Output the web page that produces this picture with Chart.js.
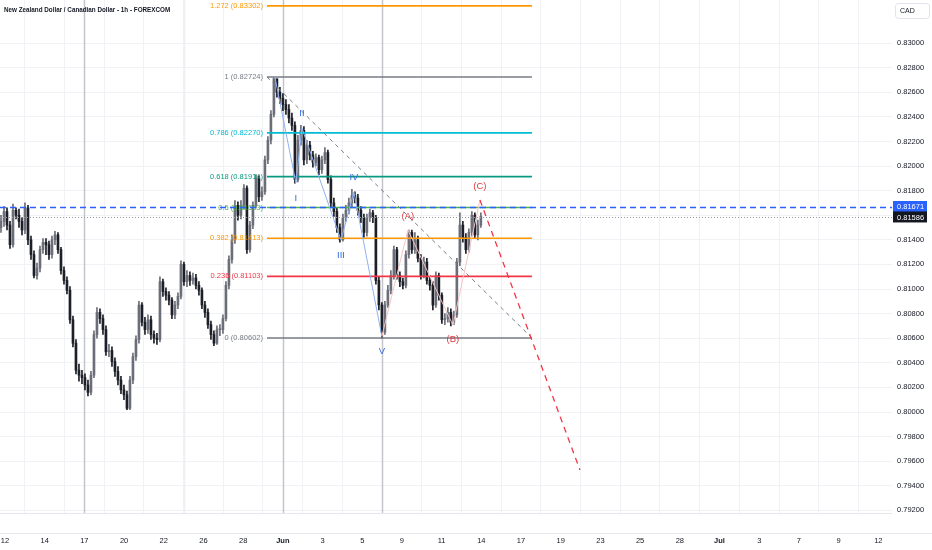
<!DOCTYPE html>
<html><head><meta charset="utf-8">
<script src="https://cdn.jsdelivr.net/npm/chart.js@4.4.0/dist/chart.umd.min.js"></script>
<style>html,body{margin:0;padding:0;background:#fff;overflow:hidden}#wrap{width:932px;height:550px;position:relative}</style>
</head><body><div id="wrap"><canvas id="c"></canvas></div>
<script>
// ---------- DATA ----------
const chartTitle = 'New Zealand Dollar / Canadian Dollar - 1h - FOREXCOM';
const currency = 'CAD';
const firstOpen = 0.8150;
const barStart = -0.2, barStep = 0.1511; // bar times, in trading-day units from 12 May
const closes = [
.8155,.8163,.8152,.8136,.8164,.8160,.8155,.8148,.8166,.8140,.8128,.8111,.8117,.8132,.8138,
.8136,.8128,.8140,.8144,.8132,.8115,.8107,.8099,.8075,.8056,.8034,.8030,.8028,
.8022,.8016,.8030,.8063,.8081,.8076,.8067,.8049,.8050,.8041,.8033,.8026,
.8018,.8014,.8003,.8026,.8045,.8059,.8087,.8073,.8067,.8075,.8063,.8060,.8059,.8106,.8098,.8095,
.8091,.8079,.8087,.8094,.8120,.8106,.8111,.8107,.8109,.8103,.8099,.8087,.8081,.8071,.8063,.8056,.8067,.8067,.8076,.8103,
.8124,.8140,.8168,.8160,.8168,.8182,.8132,.8152,.8168,.8190,.8175,.8179,.8205,.8221,.8242,.8271,.8260,.8255,.8250,.8246,
.8239,.8233,.8189,.8221,.8229,.8205,.8217,.8209,.8203,.8207,.8197,.8205,.8211,.8189,.8170,.8163,.8150,.8140,.8158,.8164,
.8170,.8176,.8174,.8164,.8158,.8146,.8158,.8162,.8158,.8107,.8087,.8065,.8087,.8099,.8111,.8132,.8111,.8106,.8103,.8128,
.8146,.8132,.8140,.8125,.8111,.8122,.8107,.8103,.8087,.8111,.8095,.8075,.8076,.8081,.8073,.8079,.8122,.8152,.8142,.8132,
.8146,.8160,.8144,.8152,.8159];
const highs = [
.8160,.8167,.8166,.8155,.8169,.8166,.8165,.8158,.8170,.8168,.8143,.8131,.8121,.8135,.8141,
.8141,.8139,.8143,.8147,.8146,.8134,.8118,.8110,.8102,.8078,.8059,.8039,.8034,
.8031,.8026,.8033,.8066,.8085,.8084,.8079,.8070,.8055,.8053,.8044,.8037,
.8029,.8022,.8017,.8029,.8048,.8062,.8090,.8089,.8077,.8079,.8078,.8066,.8064,.8110,.8108,.8101,
.8098,.8093,.8090,.8097,.8123,.8122,.8115,.8114,.8113,.8112,.8106,.8101,.8090,.8084,.8074,.8066,.8070,.8071,.8079,.8106,
.8127,.8144,.8172,.8171,.8172,.8185,.8184,.8155,.8171,.8193,.8192,.8183,.8208,.8224,.8245,.8272,.8270,.8264,.8259,.8254,
.8250,.8243,.8236,.8225,.8233,.8232,.8221,.8220,.8212,.8210,.8209,.8208,.8215,.8213,.8192,.8174,.8166,.8153,.8161,.8168,
.8174,.8181,.8179,.8177,.8167,.8161,.8161,.8165,.8164,.8160,.8110,.8089,.8090,.8103,.8115,.8135,.8134,.8114,.8109,.8131,
.8148,.8148,.8146,.8143,.8128,.8126,.8125,.8111,.8106,.8114,.8113,.8097,.8080,.8085,.8084,.8082,.8125,.8162,.8155,.8145,
.8149,.8163,.8162,.8156,.8162];
const lows = [
.8146,.8151,.8148,.8133,.8134,.8157,.8150,.8144,.8145,.8136,.8124,.8109,.8108,.8114,.8129,
.8128,.8124,.8125,.8136,.8129,.8112,.8104,.8096,.8072,.8053,.8031,.8025,.8023,
.8018,.8013,.8014,.8028,.8060,.8072,.8063,.8046,.8045,.8037,.8029,.8022,
.8015,.8010,.8002,.8002,.8023,.8042,.8056,.8070,.8063,.8064,.8059,.8056,.8055,.8057,.8094,.8091,
.8087,.8076,.8076,.8084,.8092,.8103,.8102,.8103,.8104,.8100,.8095,.8084,.8077,.8068,.8059,.8054,.8055,.8062,.8064,.8074,
.8100,.8121,.8137,.8156,.8157,.8165,.8129,.8130,.8149,.8166,.8171,.8172,.8177,.8202,.8218,.8240,.8256,.8251,.8245,.8242,
.8235,.8229,.8186,.8187,.8217,.8201,.8202,.8205,.8199,.8200,.8193,.8194,.8202,.8186,.8167,.8159,.8146,.8138,.8139,.8155,
.8161,.8167,.8170,.8160,.8154,.8142,.8143,.8155,.8154,.8104,.8083,.8060,.8063,.8085,.8096,.8108,.8108,.8102,.8100,.8101,
.8125,.8129,.8129,.8122,.8108,.8109,.8104,.8099,.8083,.8085,.8091,.8072,.8071,.8073,.8070,.8071,.8077,.8119,.8138,.8129,
.8130,.8143,.8141,.8140,.8150];
const xTickValues = [0,2,4,6,8,10,12,14,16,18,20,22,24,26,28,30,32,34,36,38,40,42,44];
const xTickLabels = ['12','14','17','20','22','26','28','Jun','3','5','9','11','14','17','19','23','25','28','Jul','3','7','9','12'];
const yTickValues = [0.792,0.794,0.796,0.798,0.800,0.802,0.804,0.806,0.808,0.810,0.812,0.814,0.816,0.818,0.820,0.822,0.824,0.826,0.828,0.830];
const fibLevels = ['1.272','1','0.786','0.618','0.5','0.382','0.236','0'];
const fibPrices = [0.83302,0.82724,0.82270,0.81914,0.81663,0.81413,0.81103,0.80602];
const fibStartTime = 13.2, fibEndTime = 26.55;
const waveLabels = ['I','II','III','IV','V'];
const waveTimes = [13.60,14.66,14.96,16.93,17.58,18.99];
const wavePrices = [0.82724,0.81862,0.82309,0.81398,0.81789,0.80615];
const corrLabels = ['(A)','(B)','(C)'];
const corrTimes = [20.30,22.57,23.93];
const corrPrices = [0.81480,0.80707,0.81724];
const projTime = 28.97, projPrice = 0.79528;
const markerTimes = [4,14,19];
const minorMarkerTimes = [9];
const alertPrice = 0.81671;
const lastPrice = 0.81586;

// ---------- STYLE ----------
const F = '"Liberation Sans", Arial, sans-serif';
const TXT = '#131722';
const fibColors = ['#ff9800','#787b86','#00bcd4','#089981','#4caf50','#ff9800','#f23645','#787b86'];
const waveSide = [1,-1,1,-1,1];   // 1 = below, -1 = above
const corrSide = [-1,1,-1];
const upCol = '#6b6e78', dnCol = '#1c1f27';

const opens = closes.map((c,i)=> i ? closes[i-1] : firstOpen);
const times = closes.map((c,i)=> barStart + i*barStep);
const colors = closes.map((c,i)=> c >= opens[i] ? upCol : dnCol);

const overlay = {
  id:'overlay',
  beforeDatasetsDraw(chart){
    const {ctx, chartArea:a, scales:{x}} = chart;
    ctx.save();
    ctx.beginPath(); ctx.rect(a.left,a.top,a.right-a.left,a.bottom-a.top); ctx.clip();
    ctx.lineWidth = 1.5;
    ctx.strokeStyle = '#eeeff2';
    minorMarkerTimes.forEach(t=>{const px=Math.round(x.getPixelForValue(t))+0.5;ctx.beginPath();ctx.moveTo(px,a.top);ctx.lineTo(px,a.bottom);ctx.stroke();});
    ctx.strokeStyle = '#c3c5cb';
    markerTimes.forEach(t=>{const px=Math.round(x.getPixelForValue(t))+0.5;ctx.beginPath();ctx.moveTo(px,a.top);ctx.lineTo(px,a.bottom);ctx.stroke();});
    ctx.restore();
  },
  afterDatasetsDraw(chart){
    const {ctx, chartArea:a, scales:{x,y}} = chart;
    const X = v=>x.getPixelForValue(v), Y = v=>y.getPixelForValue(v);
    ctx.save();
    ctx.beginPath(); ctx.rect(a.left,a.top,a.right-a.left,a.bottom-a.top); ctx.clip();
    const x0 = X(fibStartTime), x1 = X(fibEndTime);
    ctx.font = '7.5px '+F; ctx.textAlign='right'; ctx.textBaseline='middle';
    fibPrices.forEach((p,i)=>{
      const py = Y(p);
      ctx.strokeStyle = fibColors[i]; ctx.lineWidth = 1.6; ctx.setLineDash([]);
      ctx.beginPath(); ctx.moveTo(x0,py); ctx.lineTo(x1,py); ctx.stroke();
      ctx.fillStyle = fibColors[i];
      ctx.fillText(fibLevels[i]+' ('+p.toFixed(5)+')', x0-4, py);
    });
    ctx.strokeStyle='#787b86'; ctx.lineWidth=1; ctx.setLineDash([4,4]);
    ctx.beginPath(); ctx.moveTo(x0,Y(fibPrices[1])); ctx.lineTo(x1,Y(fibPrices[7])); ctx.stroke();
    ctx.setLineDash([]); ctx.strokeStyle='#8fb1f2'; ctx.lineWidth=1;
    ctx.beginPath(); waveTimes.forEach((t,i)=>{const px=X(t),py=Y(wavePrices[i]); i?ctx.lineTo(px,py):ctx.moveTo(px,py);}); ctx.stroke();
    ctx.strokeStyle='#f6c3c3';
    ctx.beginPath(); ctx.moveTo(X(waveTimes[5]),Y(wavePrices[5]));
    corrTimes.forEach((t,i)=>ctx.lineTo(X(t),Y(corrPrices[i]))); ctx.stroke();
    ctx.strokeStyle='#f23645'; ctx.lineWidth=1.3; ctx.setLineDash([6,5]);
    ctx.beginPath(); ctx.moveTo(X(corrTimes[2]),Y(corrPrices[2])); ctx.lineTo(X(projTime),Y(projPrice)); ctx.stroke();
    ctx.setLineDash([]);
    ctx.font = '9.5px '+F; ctx.textAlign='center'; ctx.textBaseline='middle';
    ctx.fillStyle='#2f6be0';
    waveLabels.forEach((s,i)=>ctx.fillText(s, X(waveTimes[i+1]), Y(wavePrices[i+1])+waveSide[i]*15));
    ctx.fillStyle='#e0393e';
    corrLabels.forEach((s,i)=>ctx.fillText(s, X(corrTimes[i]), Y(corrPrices[i])+corrSide[i]*14));
    ctx.strokeStyle='#2962ff'; ctx.lineWidth=1.5; ctx.setLineDash([6,4]);
    let py = Math.round(Y(alertPrice))+0.5;
    ctx.beginPath(); ctx.moveTo(a.left,py); ctx.lineTo(a.right,py); ctx.stroke();
    ctx.strokeStyle='#9598a1'; ctx.lineWidth=1; ctx.setLineDash([1,2]);
    py = Math.round(Y(lastPrice))+0.5;
    ctx.beginPath(); ctx.moveTo(a.left,py); ctx.lineTo(a.right,py); ctx.stroke();
    ctx.restore();
  },
  afterDraw(chart){
    const {ctx, chartArea:a, scales:{y}, width} = chart;
    ctx.save();
    ctx.strokeStyle='#e6e8ee'; ctx.lineWidth=1;
    ctx.beginPath(); ctx.moveTo(0,a.bottom+0.5); ctx.lineTo(a.right,a.bottom+0.5); ctx.stroke();
    ctx.beginPath(); ctx.moveTo(0,533.5); ctx.lineTo(width,533.5); ctx.stroke();
    ctx.font='7.5px '+F; ctx.textBaseline='middle'; ctx.textAlign='left';
    [[alertPrice,'#2962ff'],[lastPrice,'#131722']].forEach(([p,c])=>{
      const py=y.getPixelForValue(p);
      ctx.fillStyle=c; ctx.fillRect(a.right+1, py-5.5, 34, 11);
      ctx.fillStyle='#ffffff'; ctx.fillText(p.toFixed(5), a.right+5, py+0.5);
    });
    ctx.strokeStyle='#e0e3eb'; ctx.lineWidth=1;
    ctx.beginPath(); ctx.roundRect(895.5,3.5,34,15,3); ctx.stroke();
    ctx.fillStyle=TXT; ctx.font='7px '+F; ctx.fillText(currency, 900, 11.5);
    ctx.font='bold 6.3px '+F; ctx.fillStyle=TXT; ctx.textAlign='left';
    ctx.fillText(chartTitle, 4, 10.5);
    ctx.restore();
  }
};

new Chart(document.getElementById('c'), {
  type:'bar',
  data:{datasets:[
    {label:'range', data: times.map((t,i)=>({x:t, y:[lows[i], highs[i]]})), backgroundColor: colors, barThickness:1, grouped:false, order:2},
    {label:'body', data: times.map((t,i)=>({x:t, y:[opens[i], closes[i]]})), backgroundColor: colors, barThickness:2, minBarLength:1, grouped:false, order:1}
  ]},
  options:{
    responsive:true, maintainAspectRatio:false, animation:false,
    layout:{padding:0},
    plugins:{legend:{display:false}, tooltip:{enabled:false}, title:{display:false}},
    scales:{
      x:{type:'linear', min:-0.25, max:44.69, offset:false,
        grid:{color:'#f1f2f5', drawTicks:false}, border:{display:false},
        afterBuildTicks:s=>{s.ticks = xTickValues.map(v=>({value:v}));},
        ticks:{padding:23, maxRotation:0, autoSkip:false, color:TXT,
          font:c=>({family:F, size:7.5, weight:(xTickLabels[c.index]==='Jun'||xTickLabels[c.index]==='Jul')?'bold':'normal'}),
          callback:(v,i)=>xTickLabels[i]},
        afterFit:s=>{s.height=37; s.paddingLeft=0; s.paddingRight=0;}
      },
      y:{position:'right', min:0.79179, max:0.8335,
        grid:{color:'#f1f2f5', drawTicks:false}, border:{display:false},
        afterBuildTicks:s=>{s.ticks = yTickValues.map(v=>({value:v}));},
        ticks:{padding:5, color:TXT, font:{family:F, size:7.5}, callback:v=>Number(v).toFixed(5)},
        afterFit:s=>{s.width=40; s.paddingTop=0; s.paddingBottom=0;}
      }
    }
  },
  plugins:[overlay]
});
</script>
</body></html>
